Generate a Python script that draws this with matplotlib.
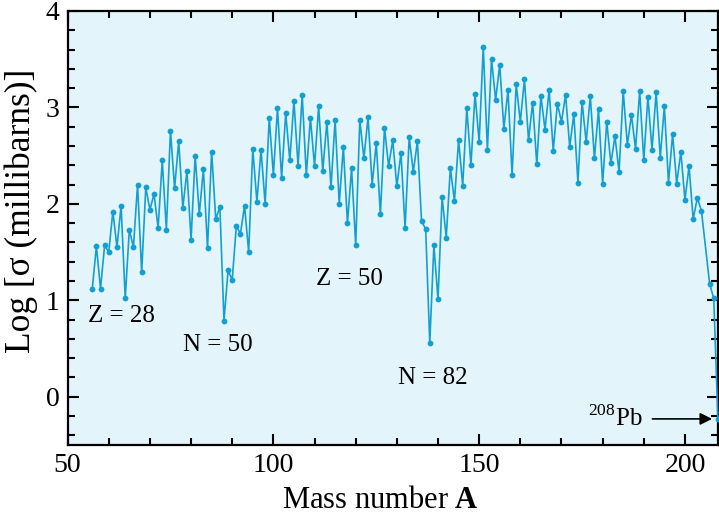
import numpy as np
import matplotlib
matplotlib.use("Agg")
import matplotlib.pyplot as plt
from matplotlib.ticker import MultipleLocator

plt.rcParams['font.family'] = ['Liberation Serif', 'DejaVu Serif']
plt.rcParams['mathtext.fontset'] = 'custom'
plt.rcParams['mathtext.rm'] = 'Liberation Serif'
plt.rcParams['mathtext.bf'] = 'Liberation Serif:bold'

# mass numbers (205 missing in the data)
mass = list(range(56, 205)) + [206, 207, 208]

log_sigma = [
    1.12, 1.56, 1.12, 1.57, 1.50, 1.92, 1.55, 1.98, 1.02, 1.73,   # 56-65
    1.55, 2.20, 1.29, 2.17, 1.94, 2.10, 1.75, 2.45, 1.73, 2.76,   # 66-75
    2.16, 2.65, 1.96, 2.34, 1.63, 2.50, 1.89, 2.36, 1.54, 2.54,   # 76-85
    1.84, 1.97, 0.79, 1.31, 1.21, 1.77, 1.69, 1.98, 1.50, 2.57,   # 86-95
    2.02, 2.56, 2.00, 2.89, 2.30, 2.99, 2.27, 2.94, 2.45, 3.07,   # 96-105
    2.39, 3.13, 2.30, 2.89, 2.39, 3.01, 2.34, 2.85, 2.17, 2.87,   # 106-115
    2.00, 2.59, 1.80, 2.37, 1.57, 2.87, 2.47, 2.90, 2.20, 2.63,   # 116-125
    1.89, 2.79, 2.39, 2.66, 2.18, 2.53, 1.75, 2.69, 2.33, 2.65,   # 126-135
    1.82, 1.74, 0.56, 1.57, 1.01, 2.07, 1.65, 2.37, 2.03, 2.66,   # 136-145
    2.19, 2.99, 2.40, 3.14, 2.64, 3.63, 2.56, 3.50, 3.08, 3.44,   # 146-155
    2.78, 3.18, 2.30, 3.24, 2.85, 3.29, 2.66, 3.05, 2.41, 3.12,   # 156-165
    2.77, 3.18, 2.55, 3.04, 2.85, 3.13, 2.59, 2.93, 2.22, 3.06,   # 166-175
    2.64, 3.12, 2.47, 2.98, 2.21, 2.85, 2.42, 2.70, 2.33, 3.17,   # 176-185
    2.61, 2.92, 2.57, 3.17, 2.45, 3.11, 2.56, 3.16, 2.48, 3.01,   # 186-195
    2.22, 2.72, 2.21, 2.54, 2.04, 2.39, 1.84, 2.06, 1.93,         # 196-204
    1.17, 1.02, -0.23,                                            # 206-208
]

labels = ["Z = 28", "N = 50", "Z = 50", "N = 82"]
label_x = [63.0, 86.4, 118.4, 138.8]
label_y = [0.775, 0.47, 1.16, 0.13]

fig = plt.figure(figsize=(7.19, 5.21), dpi=100)
ax = fig.add_axes([0.094, 0.146, 0.905, 0.833])
ax.set_facecolor('#e4f4fb')

ax.plot(mass, log_sigma, '-o', color='#12a0d0', lw=1.2, ms=4.2,
        markeredgewidth=0, clip_on=False, zorder=3)

for t, x, y in zip(labels, label_x, label_y):
    ax.text(x, y, t, fontsize=18, ha='center', va='baseline')

ax.text(189.7, -0.30, r'$^{208}$Pb', fontsize=18, ha='right', va='baseline')
ax.annotate('', xy=(206.6, -0.23), xytext=(192.1, -0.23),
            arrowprops=dict(arrowstyle='-|>', color='black', lw=1.2,
                            mutation_scale=18, shrinkA=0, shrinkB=0))

ax.set_xlim(50, 208.1)
ax.set_ylim(-0.5, 4.0)
ax.xaxis.set_major_locator(MultipleLocator(50))
ax.xaxis.set_minor_locator(MultipleLocator(10))
ax.yaxis.set_major_locator(MultipleLocator(1))
ax.yaxis.set_minor_locator(MultipleLocator(0.2))
ax.tick_params(which='both', direction='in', top=True, right=True,
               width=1.5, labelsize=20)
ax.tick_params(which='major', length=8, pad=6)
ax.tick_params(which='minor', length=5)
for s in ax.spines.values():
    s.set_linewidth(1.6)

ax.set_xlabel(r'Mass number $\mathbf{A}$', fontsize=22)
ax.set_ylabel(r'Log [σ (millibarns)]', fontsize=25.5)
ax.xaxis.set_label_coords(0.481, -0.095)
ax.yaxis.set_label_coords(-0.045, 0.54)

fig.savefig('out.png', dpi=100)
